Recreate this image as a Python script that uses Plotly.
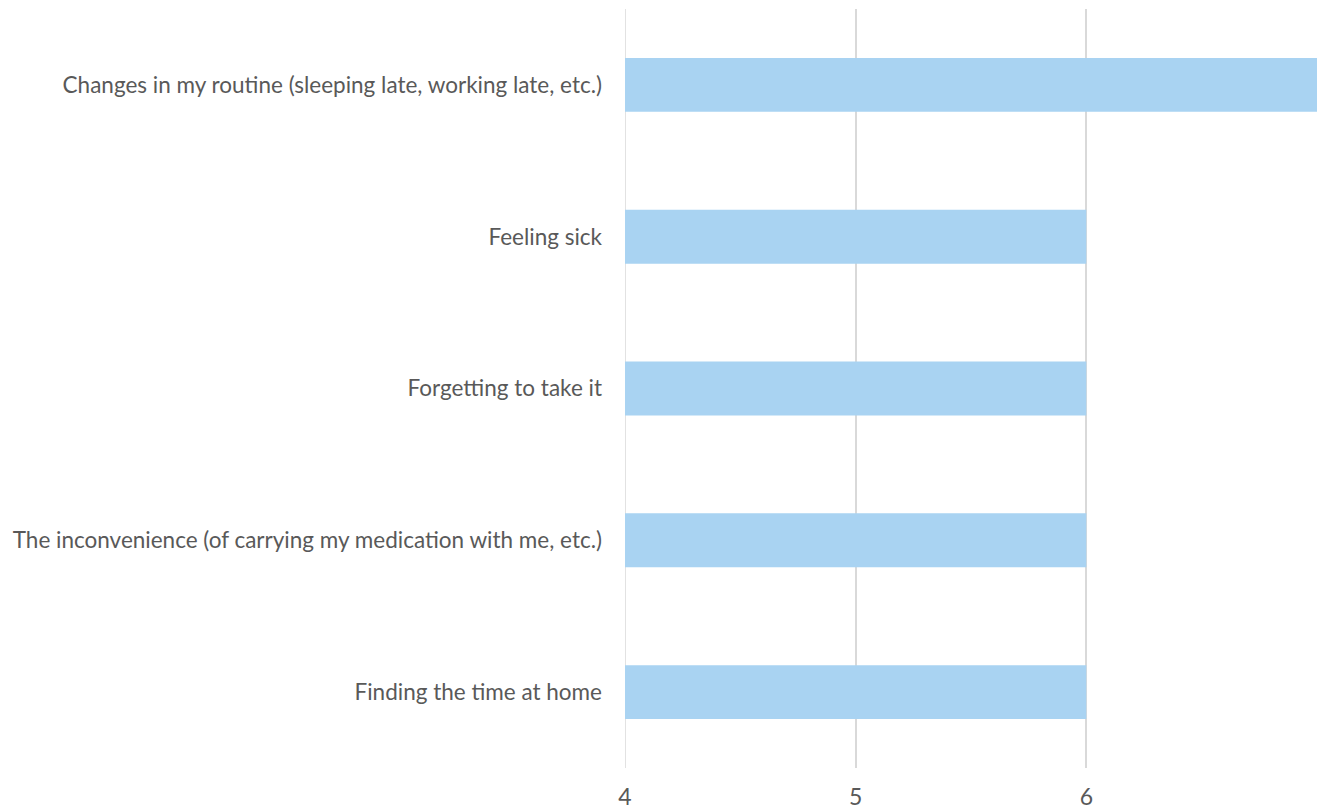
import plotly.graph_objects as go

# Reasons for missing a dose, ordered bottom-to-top as drawn
categories = [
    "Finding the time at home",
    "The inconvenience (of carrying my medication with me, etc.)",
    "Forgetting to take it",
    "Feeling sick",
    "Changes in my routine (sleeping late, working late, etc.)",
]
counts = [6, 6, 6, 6, 7]
x_ticks = [4, 5, 6, 7]

bar_color = "#A9D3F2"
text_color = "#595959"
grid_color = "#D9D9D9"
font_family = "Lato, 'Open Sans', sans-serif"

fig = go.Figure(
    go.Bar(
        x=counts,
        y=categories,
        orientation="h",
        marker=dict(color=bar_color, line=dict(width=0)),
        base=0,
    )
)

# gridline at the left edge of the value axis
fig.add_shape(
    type="line",
    xref="x", yref="paper",
    x0=x_ticks[0], x1=x_ticks[0], y0=0, y1=1,
    line=dict(color=grid_color, width=1.5),
    layer="below",
)

fig.update_layout(
    width=1317,
    height=811,
    margin=dict(l=625, r=0, t=9, b=43),
    paper_bgcolor="white",
    plot_bgcolor="white",
    bargap=0.645,
    showlegend=False,
    font=dict(family=font_family, color=text_color, size=22),
)

fig.update_xaxes(
    range=[4, 7],
    tickvals=x_ticks,
    showgrid=True,
    gridcolor=grid_color,
    gridwidth=1.5,
    zeroline=False,
    showline=False,
    ticks="",
    ticklabelstandoff=13,
    tickfont=dict(size=23, color=text_color, family=font_family),
)

fig.update_yaxes(
    showgrid=False,
    showline=False,
    zeroline=False,
    ticks="",
    ticklabelstandoff=22,
    tickfont=dict(size=22.5, color=text_color, family=font_family),
)

fig.write_html("out.html")
